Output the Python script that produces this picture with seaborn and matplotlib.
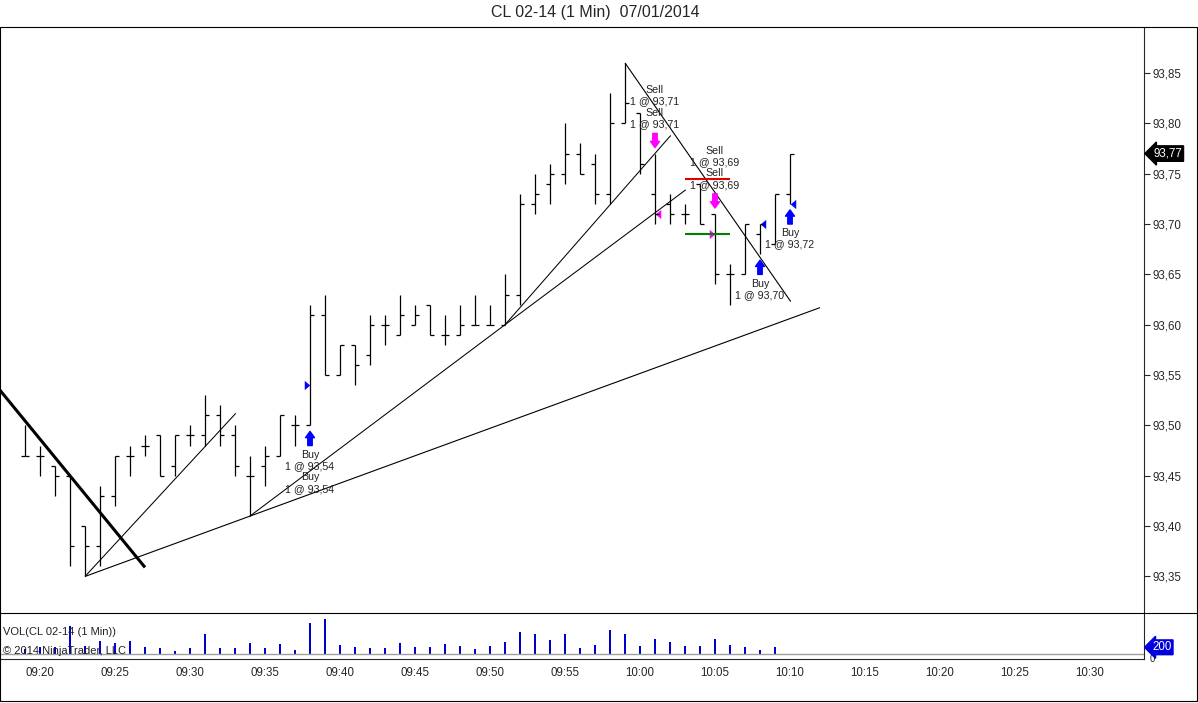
import seaborn as sns
import matplotlib.pyplot as plt
import matplotlib.ticker as mticker
from matplotlib.patches import Rectangle, Polygon
from matplotlib.lines import Line2D
import pandas as pd
import numpy as np

# -----------------------------
# Data: 1-minute bars, minutes after 09:00 (09:19 ... 10:10)
# -----------------------------
minutes = list(range(19, 71))
opens = [93.47, 93.47, 93.46, 93.45, 93.40, 93.38, 93.43, 93.47, 93.48, 93.49,
         93.46, 93.49, 93.49, 93.51, 93.49, 93.45, 93.46, 93.47, 93.50, 93.50,
         93.61, 93.55, 93.58, 93.57, 93.60, 93.59, 93.60, 93.62, 93.59, 93.59,
         93.60, 93.60, 93.60, 93.63, 93.72, 93.74, 93.75, 93.77, 93.76, 93.73,
         93.80, 93.81, 93.73, 93.72, 93.71, 93.74, 93.71, 93.65, 93.65, 93.69,
         93.68, 93.73]
highs = [93.50, 93.48, 93.46, 93.45, 93.40, 93.44, 93.47, 93.48, 93.49, 93.49,
         93.49, 93.50, 93.53, 93.52, 93.50, 93.47, 93.48, 93.51, 93.51, 93.62,
         93.63, 93.58, 93.58, 93.61, 93.61, 93.63, 93.62, 93.62, 93.61, 93.62,
         93.63, 93.62, 93.65, 93.73, 93.75, 93.76, 93.80, 93.78, 93.77, 93.83,
         93.86, 93.81, 93.77, 93.73, 93.72, 93.74, 93.71, 93.66, 93.70, 93.70,
         93.73, 93.77]
lows = [93.47, 93.45, 93.43, 93.36, 93.35, 93.36, 93.42, 93.45, 93.47, 93.45,
        93.45, 93.48, 93.48, 93.48, 93.45, 93.41, 93.44, 93.47, 93.48, 93.50,
        93.55, 93.55, 93.54, 93.56, 93.58, 93.59, 93.60, 93.59, 93.58, 93.59,
        93.60, 93.60, 93.60, 93.62, 93.71, 93.72, 93.74, 93.75, 93.72, 93.72,
        93.80, 93.75, 93.70, 93.70, 93.70, 93.70, 93.64, 93.62, 93.65, 93.67,
        93.68, 93.72]
closes = [93.47, 93.47, 93.45, 93.38, 93.38, 93.43, 93.47, 93.47, 93.48, 93.45,
          93.49, 93.49, 93.51, 93.49, 93.46, 93.45, 93.47, 93.51, 93.50, 93.61,
          93.55, 93.58, 93.56, 93.60, 93.60, 93.61, 93.61, 93.59, 93.59, 93.60,
          93.60, 93.60, 93.63, 93.72, 93.73, 93.75, 93.77, 93.75, 93.73, 93.80,
          93.82, 93.76, 93.71, 93.71, 93.71, 93.70, 93.65, 93.65, 93.70, 93.70,
          93.73, 93.77]
# volume 09:19 ... 10:09
volumes = [140, 200, 200, 800, 230, 370, 310, 370, 200, 170, 90, 170, 570, 170,
           170, 310, 170, 290, 110, 890, 1000, 260, 200, 170, 170, 310, 200, 200,
           290, 230, 140, 230, 340, 630, 570, 400, 570, 170, 260, 690, 570, 230,
           430, 340, 230, 230, 430, 260, 200, 110, 200]

# executions
trade_min = [38, 61, 65, 68, 70]
trade_side = ["Buy", "Sell", "Sell", "Buy", "Buy"]
trade_price = [93.54, 93.71, 93.69, 93.70, 93.72]
trade_count = [2, 2, 2, 1, 1]
trade_mark = ["left", "right", "left", "right", "right"]

# hand-drawn trend lines
line_t0 = [17.0, 23.0, 23.0, 34.0, 51.0, 51.0, 59.0]
line_p0 = [93.541, 93.35, 93.35, 93.41, 93.60, 93.60, 93.86]
line_t1 = [27.0, 33.05, 72.0, 51.0, 62.05, 63.05, 70.05]
line_p1 = [93.359, 93.512, 93.617, 93.60, 93.788, 93.734, 93.623]
line_w = [2.2, 0.75, 0.8, 0.75, 0.75, 0.75, 0.8]

# working order lines
order_price = [93.745, 93.69]
order_color = ["#E00000", "#008000"]
order_t0, order_t1 = 63, 66

last_price = closes[-1]
last_volume = volumes[-1]

df = pd.DataFrame({"t": minutes, "open": opens, "high": highs,
                   "low": lows, "close": closes})
vdf = pd.DataFrame({"t": minutes[:len(volumes)], "vol": volumes})

# -----------------------------
# Styling
# -----------------------------
sns.set_style("white")
plt.rcParams["font.family"] = ["Liberation Sans", "DejaVu Sans"]

W, H = 1198, 703
fig = plt.figure(figsize=(W / 100, H / 100), dpi=100)
ax = fig.add_axes([1 / W, 1 - 612 / H, 1143 / W, 585 / H])
axv = fig.add_axes([1 / W, 1 - 658.7 / H, 1143 / W, 45.7 / H], sharex=ax)

# OHLC bars
bar_lw = 0.9
ax.vlines(df.t, df.low, df.high, color="black", lw=bar_lw)
ax.hlines(df.open, df.t - 0.25, df.t, color="black", lw=bar_lw)
ax.hlines(df.close, df.t, df.t + 0.25, color="black", lw=bar_lw)

# trend lines
for t0, p0, t1, p1, w in zip(line_t0, line_p0, line_t1, line_p1, line_w):
    ax.plot([t0, t1], [p0, p1], color="black", lw=w, solid_capstyle="butt")

# order lines
for p, c in zip(order_price, order_color):
    ax.hlines(p, order_t0, order_t1, color=c, lw=1.5)

# executions
tri_r = [(-1, -1.7), (1, 0), (-1, 1.7)]
tri_l = [(1, -1.7), (-1, 0), (1, 1.7)]
for t, side, price, n, mark in zip(trade_min, trade_side, trade_price,
                                   trade_count, trade_mark):
    i = minutes.index(t)
    col = "#0000FF" if side == "Buy" else "#FF00FF"
    one = f"{side}\n1 @ {price:.2f}".replace(".", ",")
    label = "\n".join([one] * n)
    if side == "Buy":
        anchor, sgn, va = lows[i], -1, "top"
    else:
        anchor, sgn, va = highs[i], 1, "bottom"
    ax.annotate("", xy=(t, anchor), xytext=(0, sgn * 14.5),
                textcoords="offset points",
                arrowprops=dict(arrowstyle="simple,head_length=0.45,head_width=0.65,tail_width=0.32",
                                color=col, shrinkA=0, shrinkB=4.3,
                                mutation_scale=10))
    ax.annotate(label, xy=(t, anchor), xytext=(0, sgn * 17.5),
                textcoords="offset points", ha="center", va=va,
                fontsize=7.7, linespacing=1.17, color="#222222")
    dx = -0.2 if mark == "left" else 0.22
    sns.scatterplot(x=[t + dx], y=[price], marker=tri_r if mark == "left" else tri_l,
                    s=45, color=col, linewidth=0, ax=ax)

# last price tag
ax.text(1.0205, last_price, f"{last_price:.2f}".replace(".", ","),
        transform=ax.get_yaxis_transform(), ha="center", va="center",
        color="white", fontsize=8.3, clip_on=False,
        bbox=dict(boxstyle="larrow,pad=0.15", fc="black", ec="black"))

# axis formatting (price)
ax.set_xlim(17.4, 93.6)
ax.set_ylim(93.3147, 93.8957)
ax.yaxis.tick_right()
ax.set_yticks(np.round(np.arange(93.35, 93.86, 0.05), 2))
ax.yaxis.set_major_formatter(mticker.FuncFormatter(lambda v, p: f"{v:.2f}".replace(".", ",")))
ax.tick_params(axis="y", direction="out", length=4.3, width=0.8, labelsize=8.3,
               pad=2, right=True, left=False)
ax.tick_params(axis="x", bottom=False, labelbottom=False)
for s in ["left", "top", "bottom"]:
    ax.spines[s].set_visible(False)
ax.spines["right"].set_linewidth(0.8)

# go-to-end icon
ax.add_patch(Polygon([(0.9738, 0.9829), (0.9738, 0.9487), (0.9886, 0.9658)],
                     closed=True, fill=False, lw=0.8, transform=ax.transAxes))
ax.add_patch(Rectangle((0.9886, 0.9487), 0.0035, 0.0342, fill=False, lw=0.8,
                       transform=ax.transAxes))

# volume panel
sns.barplot(data=vdf, x="t", y="vol", native_scale=True, width=0.14,
            color="#0000CC", saturation=1, linewidth=0, ax=axv)
axv.axhline(0, color="#A0A0A0", lw=1)
axv.set_ylim(-126, 1180)
axv.set_xlim(17.4, 93.6)
axv.set_xlabel("")
axv.set_ylabel("")
axv.yaxis.tick_right()
axv.set_yticks([0])
axv.set_yticklabels(["0"], va="top")
axv.tick_params(axis="y", length=0, labelsize=7, pad=4)
axv.set_xticks(range(20, 91, 5))
axv.xaxis.set_major_formatter(mticker.FuncFormatter(
    lambda v, p: f"{9 + int(v) // 60:02d}:{int(v) % 60:02d}"))
axv.tick_params(axis="x", direction="out", length=3, width=0.8, labelsize=8.3, pad=3)
for s in ["left", "top"]:
    axv.spines[s].set_visible(False)
axv.spines["right"].set_linewidth(0.8)
axv.spines["bottom"].set_linewidth(0.8)
axv.text(0.0017, 0.58, "VOL(CL 02-14 (1 Min))", transform=axv.transAxes,
         ha="left", va="center", fontsize=8, color="#222222")
axv.text(0.0017, 0.17, "\u00a9 2014 NinjaTrader, LLC", transform=axv.transAxes,
         ha="left", va="center", fontsize=8, color="#222222")
axv.text(1.0157, last_volume, str(last_volume), transform=axv.get_yaxis_transform(),
         ha="center", va="center", color="white", fontsize=8.3, clip_on=False,
         zorder=5,
         bbox=dict(boxstyle="larrow,pad=0.12", fc="#0000DD", ec="#0000DD"))

# frame, separator and title
fig.add_artist(Rectangle((0.4 / W, 1 - 701 / H), 1197 / W, 674 / H, fill=False,
                         lw=0.8, color="black", transform=fig.transFigure))
fig.add_artist(Line2D([0, 1], [1 - 612.5 / H] * 2, lw=0.8, color="black",
                      transform=fig.transFigure))
fig.text(0.497, 1 - 13 / H, "CL 02-14 (1 Min)  07/01/2014", ha="center",
         va="center", fontsize=11.5)

plt.savefig("out.png", dpi=100)
plt.close()
